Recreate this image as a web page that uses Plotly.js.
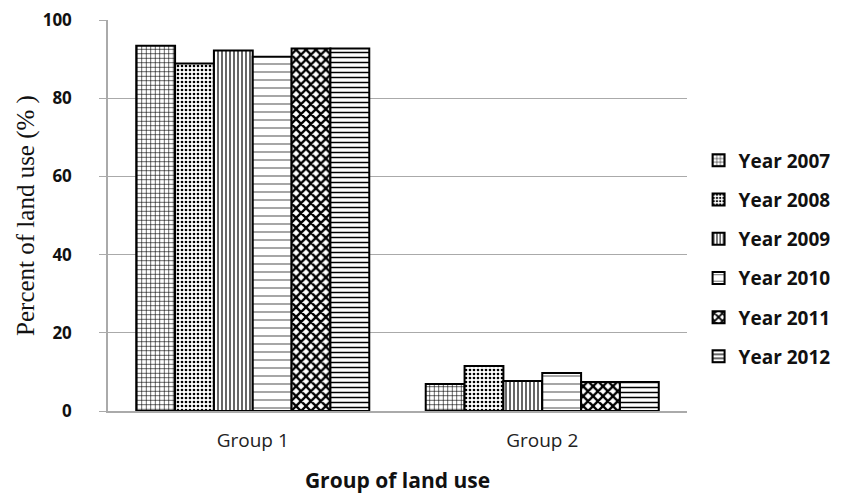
<!DOCTYPE html>
<html><head><meta charset="utf-8">
<script src="https://cdn.plot.ly/plotly-3.0.1.min.js"></script>
<style>body{margin:0;background:#fff}</style>
</head><body><div id="chart" style="width:848px;height:502px"></div>
<script>
const categories = ["Group 1", "Group 2"];
const seriesNames = ["Year 2007", "Year 2008", "Year 2009", "Year 2010", "Year 2011", "Year 2012"];
const year2007 = [93.4, 6.9];
const year2008 = [88.9, 11.5];
const year2009 = [92.2, 7.7];
const year2010 = [90.6, 9.7];
const year2011 = [92.7, 7.4];
const year2012 = [92.7, 7.4];
const values = [year2007, year2008, year2009, year2010, year2011, year2012];
const patterns = [
  {shape: "+", size: 4.5, solidity: 0.25},
  {shape: ".", size: 4, solidity: 0.35},
  {shape: "|", size: 4, solidity: 0.3},
  {shape: "-", size: 8, solidity: 0.12, fgcolor: "#444"},
  {shape: "x", size: 7, solidity: 0.55},
  {shape: "-", size: 5, solidity: 0.3}
];
const traces = seriesNames.map((n, i) => ({
  type: "bar", name: n, x: categories, y: values[i], legendgroup: "g" + i,
  marker: {color: "#ffffff", line: {color: "#000", width: 2},
    pattern: Object.assign({fgcolor: "#000", bgcolor: "#fff", fillmode: "replace"}, patterns[i])}
}));
const layout = {
  width: 848, height: 502,
  margin: {l: 108, r: 158, t: 20, b: 91},
  paper_bgcolor: "#fff", plot_bgcolor: "#fff",
  barmode: "group", bargap: 0.195, bargroupgap: 0,
  showlegend: true,
  legend: {x: 1.02, y: 0.39, yanchor: "middle", xanchor: "left",
    font: {family: "Open Sans, Lato, sans-serif", size: 19, color: "#111", weight: "bold"},
    tracegroupgap: 11.5, itemwidth: 30},
  xaxis: {showline: true, linecolor: "#aaa", linewidth: 1.5, ticks: "",
    tickfont: {family: "Open Sans, sans-serif", size: 19, color: "#222"},
    ticklabelstandoff: 11,
    title: {text: "Group of land use", standoff: 22,
      font: {family: "Open Sans, sans-serif", size: 21, color: "#111", weight: "bold"}}},
  yaxis: {range: [0, 100], dtick: 20, showline: true, linecolor: "#aaa", linewidth: 1.5,
    ticks: "outside", ticklen: 7, tickcolor: "#aaa", ticklabelstandoff: 24,
    gridcolor: "#aaa", gridwidth: 1.2, zeroline: false,
    tickfont: {family: "Open Sans, sans-serif", size: 17, color: "#111", weight: "bold"},
    title: {text: "Percent of land use (% )", standoff: 1,
      font: {family: "Liberation Serif, serif", size: 25, color: "#111"}}}
};
Plotly.newPlot("chart", traces, layout, {displayModeBar: false});
</script></body></html>
